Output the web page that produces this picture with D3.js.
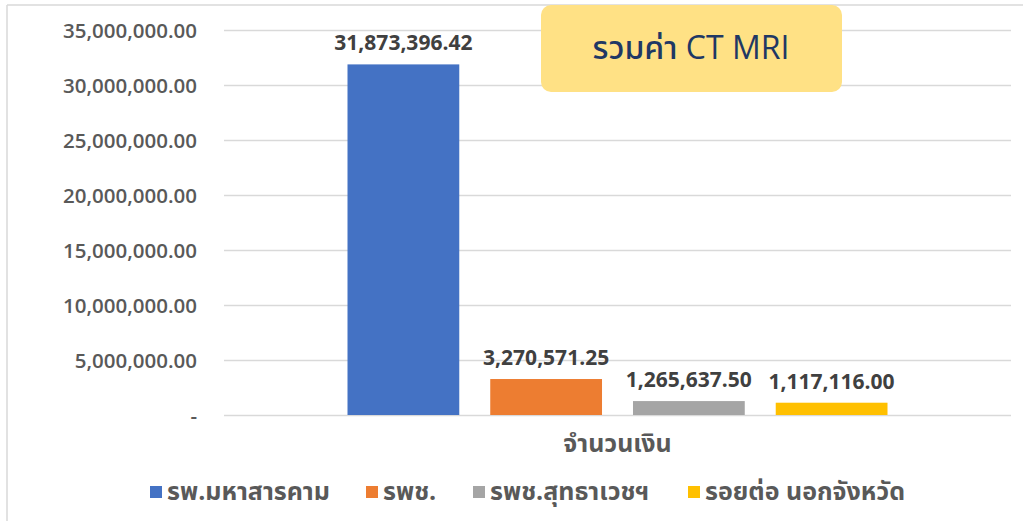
<!DOCTYPE html>
<html>
<head>
<meta charset="utf-8">
<script src="https://cdn.jsdelivr.net/npm/d3@7"></script>
<style>
  html, body { margin: 0; padding: 0; background: #fff; }
  svg { display: block; }
  text { font-family: "Open Sans", "Noto Sans", "Noto Sans Thai", Tahoma, sans-serif; }
</style>
</head>
<body>
<svg id="chart" width="1023" height="521"></svg>
<script>
const categories = ["จำนวนเงิน"];
const seriesNames = ["รพ.มหาสารคาม", "รพช.", "รพช.สุทธาเวชฯ", "รอยต่อ นอกจังหวัด"];
const seriesValues = [31873396.42, 3270571.25, 1265637.50, 1117116.00];
const seriesColors = ["#4472C4", "#ED7D31", "#A5A5A5", "#FFC000"];
const yTicks = [0, 5000000, 10000000, 15000000, 20000000, 25000000, 30000000, 35000000];
const titleText = "รวมค่า CT MRI";

const svg = d3.select("#chart");
const W = 1023, H = 521;
const plot = { left: 224, right: 1011, top: 30, bottom: 415 };

// outer chart border (left + top)
svg.append("line").attr("x1", 7).attr("x2", 7).attr("y1", 5).attr("y2", H)
  .attr("stroke", "#d9d9d9").attr("stroke-width", 1.5);
svg.append("line").attr("x1", 7).attr("x2", W).attr("y1", 5).attr("y2", 5)
  .attr("stroke", "#d9d9d9").attr("stroke-width", 1.5);

const y = d3.scaleLinear().domain([0, 35000000]).range([plot.bottom, plot.top]);
const fmt = d3.format(",.2f");
const tickFmt = v => v === 0 ? "-" : fmt(v);

const x0 = d3.scaleBand().domain(categories).range([plot.left, plot.right])
  .paddingInner(0).paddingOuter(0.189);
const x1 = d3.scaleBand().domain(seriesNames).range([0, x0.bandwidth()])
  .paddingInner(0.217).paddingOuter(0.109);

// gridlines
const yAxis = d3.axisLeft(y).tickValues(yTicks).tickFormat(tickFmt)
  .tickSize(-(plot.right - plot.left)).tickPadding(27);
const gy = svg.append("g").attr("transform", `translate(${plot.left},0)`).call(yAxis);
gy.select(".domain").remove();
gy.selectAll(".tick line").attr("stroke", "#d9d9d9").attr("stroke-width", 1.5);
gy.selectAll(".tick text").attr("fill", "#595959").style("font-size", "20.5px")
  .style("font-weight", "600").attr("dy", "0.35em");

// bars
const data = seriesNames.map((n, i) => ({ name: n, value: seriesValues[i], color: seriesColors[i], cat: categories[0] }));
const g = svg.append("g");
g.selectAll("rect.bar").data(data).enter().append("rect")
  .attr("class", "bar")
  .attr("x", d => x0(d.cat) + x1(d.name))
  .attr("width", x1.bandwidth())
  .attr("y", d => y(d.value))
  .attr("height", d => y(0) - y(d.value))
  .attr("fill", d => d.color);

g.selectAll("text.val").data(data).enter().append("text")
  .attr("class", "val")
  .attr("x", d => x0(d.cat) + x1(d.name) + x1.bandwidth() / 2)
  .attr("y", d => y(d.value) - 14)
  .attr("text-anchor", "middle")
  .attr("fill", "#404040")
  .style("font-size", "21px").style("font-weight", "700")
  .text(d => fmt(d.value));

// category label
svg.append("text")
  .attr("x", x0(categories[0]) + x0.bandwidth() / 2)
  .attr("y", 452)
  .attr("text-anchor", "middle")
  .attr("fill", "#595959")
  .style("font-size", "25px").style("font-weight", "700")
  .text(categories[0]);

// legend
const legendX = [150, 366, 473, 688];
const lg = svg.append("g");
data.forEach((d, i) => {
  lg.append("rect").attr("x", legendX[i]).attr("y", 486).attr("width", 12).attr("height", 12).attr("fill", d.color);
  lg.append("text").attr("x", legendX[i] + 17).attr("y", 500)
    .attr("fill", "#595959").style("font-size", "25px").style("font-weight", "700")
    .text(d.name);
});

// title box
svg.append("rect").attr("x", 541).attr("y", 5).attr("width", 301).attr("height", 87)
  .attr("rx", 10).attr("fill", "#FFE185");
svg.append("text").attr("x", 691).attr("y", 59).attr("text-anchor", "middle")
  .attr("fill", "#1F3864").style("font-size", "32px").style("font-weight", "500")
  .text(titleText);
</script>
</body>
</html>
